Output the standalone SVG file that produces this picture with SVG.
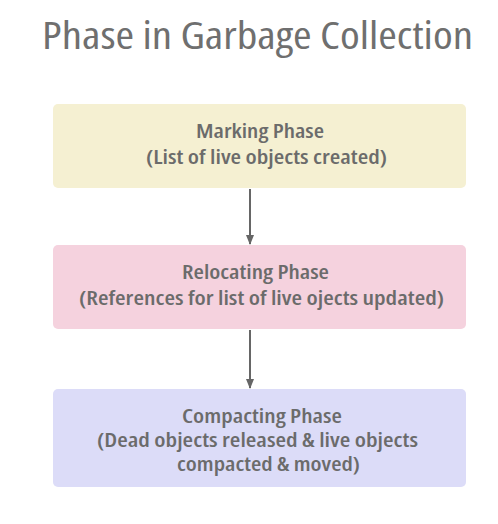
<svg xmlns="http://www.w3.org/2000/svg" width="498" height="524" viewBox="0 0 498 524">
<style>
.title{font-family:"Open Sans","Liberation Sans",sans-serif;font-size:38px;font-stretch:condensed;fill:#6f6f6f;}
.t{font-family:"Open Sans","Liberation Sans",sans-serif;font-size:19px;font-weight:600;font-stretch:semi-condensed;fill:#6b6b6b;}
.c{stroke:#666;stroke-width:2;fill:none;}
</style>
<defs>
<marker id="ah" markerWidth="10" markerHeight="8" refX="9" refY="4" orient="auto" markerUnits="userSpaceOnUse">
<path d="M0,0 L10,4 L0,8 z" fill="#666"/>
</marker>
</defs>
<rect width="498" height="524" fill="#ffffff"/>
<text class="title" x="42" y="49" textLength="431" lengthAdjust="spacingAndGlyphs">Phase in Garbage Collection</text>
<g id="connectors">
<line class="c" x1="250" y1="189" x2="250" y2="244" marker-end="url(#ah)"/>
<line class="c" x1="250" y1="330" x2="250" y2="388" marker-end="url(#ah)"/>
</g>
<g id="marking">
<rect x="53" y="104" width="413" height="84" rx="5" fill="#f5f0d2"/>
<text class="t" x="196" y="138" textLength="128" lengthAdjust="spacingAndGlyphs">Marking Phase</text>
<text class="t" x="146" y="164" textLength="241" lengthAdjust="spacingAndGlyphs">(List of live objects created)</text>
</g>
<g id="relocating">
<rect x="53" y="245" width="413" height="84" rx="5" fill="#f5d2de"/>
<text class="t" x="182" y="279" textLength="147" lengthAdjust="spacingAndGlyphs">Relocating Phase</text>
<text class="t" x="79" y="305" textLength="365" lengthAdjust="spacingAndGlyphs">(References for list of live ojects updated)</text>
</g>
<g id="compacting">
<rect x="53" y="389" width="413" height="98" rx="5" fill="#dcdcf8"/>
<text class="t" x="182" y="423" textLength="160" lengthAdjust="spacingAndGlyphs">Compacting Phase</text>
<text class="t" x="97" y="447" textLength="321" lengthAdjust="spacingAndGlyphs">(Dead objects released &amp; live objects</text>
<text class="t" x="177" y="471" textLength="183" lengthAdjust="spacingAndGlyphs">compacted &amp; moved)</text>
</g>
</svg>
